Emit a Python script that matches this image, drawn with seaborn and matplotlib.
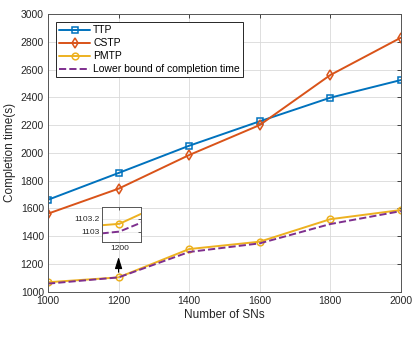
import matplotlib
matplotlib.use("Agg")
import matplotlib.pyplot as plt
import seaborn as sns
import pandas as pd

# ---- data ----
num_sns = [1000, 1200, 1400, 1600, 1800, 2000]
ttp = [1662, 1855, 2051, 2227, 2397, 2524]
cstp = [1562, 1742, 1984, 2200, 2560, 2829]
pmtp = [1068, 1103.12, 1307, 1360, 1522, 1588]
lower_bound = [1058, 1103.0, 1286, 1348, 1487, 1580]

series_names = ["TTP", "CSTP", "PMTP", "Lower bound of completion time"]
series_vals = [ttp, cstp, pmtp, lower_bound]
colors = ["#0072BD", "#D95319", "#EDB120", "#7E2F8E"]
markers = ["s", "d", "o", None]
msizes = [4.2, 5.5, 4.8, 0]
dashes = ["-", "-", "-", "--"]

df = pd.DataFrame({"SNs": num_sns})
for name, vals in zip(series_names, series_vals):
    df[name] = vals

sns.set_style("white")
plt.rcParams["font.family"] = ["Liberation Sans", "DejaVu Sans"]
edge = "#262626"

fig = plt.figure(figsize=(4.15, 3.43), dpi=100)
ax = fig.add_axes([0.1157, 0.1496, 0.85, 0.8096])


def draw(axis, lw):
    for name, c, m, ms, ls in zip(series_names, colors, markers, msizes, dashes):
        sns.lineplot(data=df, x="SNs", y=name, ax=axis, color=c, marker=m,
                     linestyle=ls, linewidth=lw, markersize=ms,
                     markerfacecolor="none", markeredgecolor=c,
                     markeredgewidth=1.1, label=name)


draw(ax, 1.4)
ax.set_xlim(1000, 2000)
ax.set_ylim(1000, 3000)
ax.set_xticks(range(1000, 2001, 200))
ax.set_yticks(range(1000, 3001, 200))
ax.grid(True, color="#d9d9d9", linewidth=0.6)
ax.set_xlabel("Number of SNs", fontsize=8.5, color=edge, labelpad=2)
ax.set_ylabel("Completion time(s)", fontsize=8.5, color=edge, labelpad=3)
ax.tick_params(direction="in", length=3, width=0.6, labelsize=7.5,
               colors=edge, top=True, right=True, pad=3)
for sp in ax.spines.values():
    sp.set_color("#555555")
    sp.set_linewidth(0.7)

leg = ax.legend(loc="upper left", bbox_to_anchor=(0.022, 0.97), borderaxespad=0,
                fontsize=7.5, handlelength=3.0, handletextpad=0.3,
                labelspacing=0.28, borderpad=0.3, fancybox=False, framealpha=1)
leg.get_frame().set_edgecolor(edge)
leg.get_frame().set_linewidth(0.7)
for t in leg.get_texts():
    t.set_color("black")

# zoomed inset around 1200
axin = ax.inset_axes([0.153, 0.179, 0.1106, 0.126])
draw(axin, 1.4)
axin.get_legend().remove()
axin.set_xlim(1199.88, 1200.15)
axin.set_ylim(1102.84, 1103.38)
axin.set_xticks([1200])
axin.set_yticks([1103, 1103.2])
axin.set_yticklabels(["1103", "1103.2"])
axin.set_xlabel("")
axin.set_ylabel("")
axin.grid(True, color="#e3e3e3", linewidth=0.5)
axin.tick_params(direction="in", length=2, width=0.5, labelsize=6,
                 colors=edge, top=True, right=True, pad=2)
for sp in axin.spines.values():
    sp.set_color("#555555")
    sp.set_linewidth(0.7)

ax.annotate("", xy=(1200, 1250), xytext=(1200, 1140),
            arrowprops=dict(arrowstyle="-|>,head_length=0.7,head_width=0.22",
                            color="black", lw=0.8, shrinkA=0, shrinkB=0))

fig.savefig("out.png", dpi=100)
